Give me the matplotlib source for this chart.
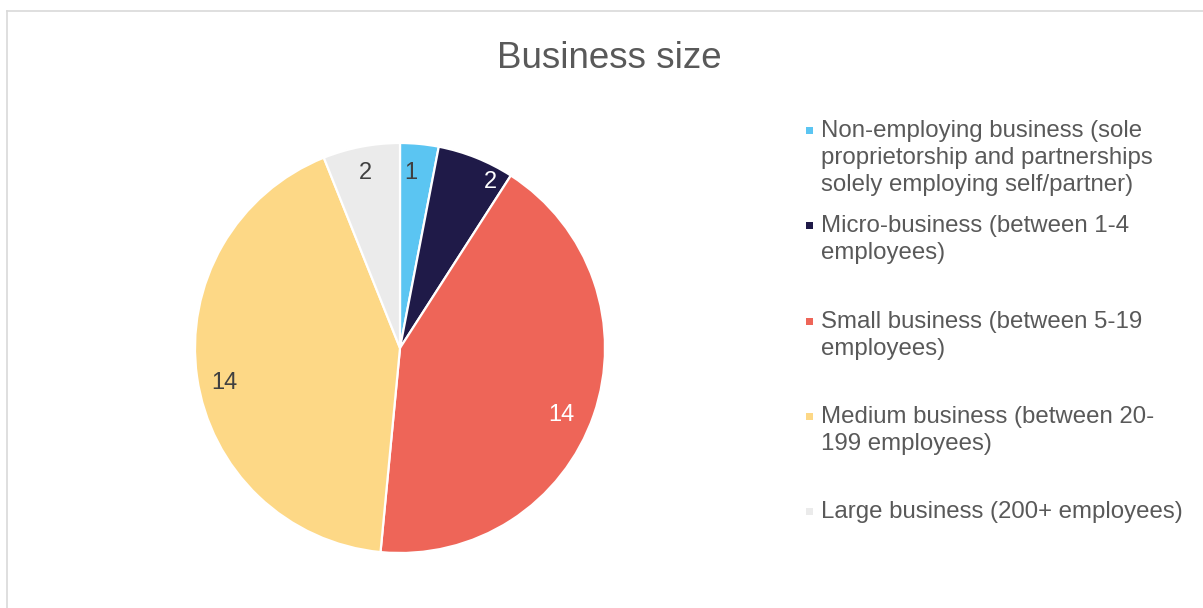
import matplotlib
matplotlib.use("Agg")
import matplotlib.pyplot as plt
from matplotlib.patches import Rectangle
from matplotlib.lines import Line2D

plt.rcParams['font.family'] = ['Liberation Sans', 'DejaVu Sans']

# Data
categories = [
    "Non-employing business (sole\nproprietorship and partnerships\nsolely employing self/partner)",
    "Micro-business (between 1-4\nemployees)",
    "Small business (between 5-19\nemployees)",
    "Medium business (between 20-\n199 employees)",
    "Large business (200+ employees)",
]
counts = [1, 2, 14, 14, 2]
colors = ["#5BC5F2", "#1F1A48", "#EE6558", "#FDD886", "#EBEBEB"]
label_colors = ["#404040", "white", "white", "#404040", "#404040"]
title = "Business size"

W, H, DPI = 1203, 608, 100
fig = plt.figure(figsize=(W / DPI, H / DPI), dpi=DPI)

def fx(px):
    return px / W

def fy(py):
    return 1 - py / H

# Chart frame (light grey border)
fig.add_artist(Line2D([fx(7), 1.0], [fy(11), fy(11)], transform=fig.transFigure,
                      color="#D9D9D9", lw=1.2))
fig.add_artist(Line2D([fx(7), fx(7)], [fy(11), 0.0], transform=fig.transFigure,
                      color="#D9D9D9", lw=1.2))

# Pie axes: centre (400, 348) px, radius 205 px
cx, cy, r = 400, 348, 205
ax = fig.add_axes([fx(cx - r), fy(cy + r), (2 * r) / W, (2 * r) / H])
wedges, texts, autotexts = ax.pie(
    counts, colors=colors, startangle=90, counterclock=False,
    autopct=lambda p: f"{int(round(p * sum(counts) / 100))}",
    pctdistance=0.87, radius=1.0,
    wedgeprops=dict(edgecolor="white", linewidth=1.6),
    textprops=dict(fontsize=17),
)
# Nudge the data labels (pixel offsets) for best-fit placement inside slices
label_nudges = [(-6, -3), (24, 0), (-7, -9), (1, -10), (-1, 0)]
for t, c, (dx, dy) in zip(autotexts, label_colors, label_nudges):
    t.set_color(c)
    x0, y0 = t.get_position()
    t.set_position((x0 + dx / r, y0 + dy / r))
ax.set_xlim(-1, 1)
ax.set_ylim(-1, 1)
ax.set_aspect("equal")
ax.axis("off")

# Title
fig.text(fx(609), fy(68), title, ha="center", va="baseline",
         fontsize=26.5, color="#595959")

# Legend entries
first_baselines = [137, 232, 328, 423, 518]
line_step = 27
for lab, col, base in zip(categories, colors, first_baselines):
    for i, line in enumerate(lab.split("\n")):
        fig.text(fx(821), fy(base + i * line_step), line, ha="left",
                 va="baseline", fontsize=17.3, color="#595959")
    fig.add_artist(Rectangle((fx(806), fy(base - 3)), 7 / W, 7 / H,
                             transform=fig.transFigure, facecolor=col,
                             edgecolor="none"))

fig.savefig("out.png", dpi=DPI, facecolor="white")
